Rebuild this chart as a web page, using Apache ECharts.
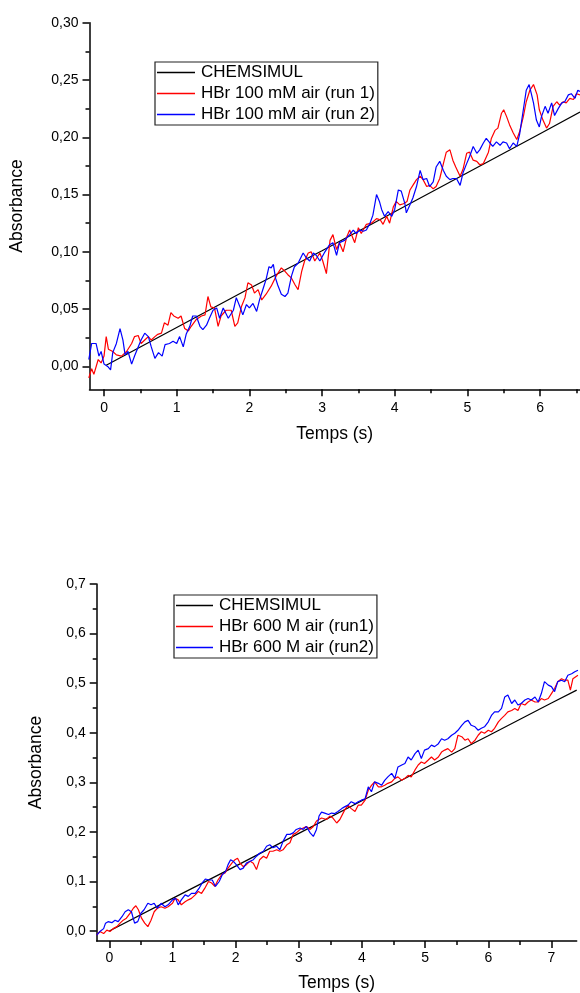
<!DOCTYPE html>
<html>
<head>
<meta charset="utf-8">
<script src="https://cdn.jsdelivr.net/npm/echarts@6/dist/echarts.min.js"></script>
<style>html,body{margin:0;padding:0;background:#fff}#c{width:580px;height:993px}</style>
</head>
<body>
<div id="c"></div>
<script>
// ---------- Top chart data (HBr 100 mM) ----------
var topSim = [[0.03,0.001],[1,0.034],[2,0.068],[3,0.101],[4,0.135],[5,0.169],[6,0.203],[6.55,0.222]];
var topRun1 = [[-0.21,-0.010],[-0.17,-0.002],[-0.14,-0.007],[-0.08,0.006],[-0.04,0.003],[0,0.009],[0.03,0.026],[0.06,0.015],[0.12,0.013],[0.17,0.010],[0.24,0.009],[0.31,0.013],[0.38,0.020],[0.42,0.026],[0.47,0.027],[0.51,0.020],[0.56,0.023],[0.61,0.026],[0.65,0.023],[0.70,0.026],[0.74,0.028],[0.79,0.029],[0.83,0.038],[0.88,0.036],[0.92,0.047],[0.96,0.044],[1.02,0.042],[1.06,0.044],[1.11,0.033],[1.16,0.031],[1.20,0.035],[1.27,0.041],[1.34,0.044],[1.39,0.045],[1.43,0.061],[1.47,0.052],[1.52,0.051],[1.57,0.035],[1.61,0.044],[1.68,0.049],[1.75,0.049],[1.80,0.035],[1.84,0.038],[1.89,0.052],[1.94,0.060],[1.98,0.073],[2.03,0.071],[2.07,0.064],[2.12,0.067],[2.17,0.058],[2.23,0.063],[2.30,0.070],[2.37,0.079],[2.44,0.086],[2.49,0.083],[2.53,0.080],[2.58,0.077],[2.63,0.071],[2.67,0.067],[2.72,0.083],[2.76,0.092],[2.81,0.099],[2.85,0.100],[2.90,0.092],[2.97,0.099],[3.01,0.092],[3.06,0.081],[3.11,0.110],[3.15,0.115],[3.20,0.102],[3.24,0.108],[3.29,0.100],[3.34,0.113],[3.38,0.119],[3.45,0.108],[3.50,0.121],[3.54,0.116],[3.61,0.124],[3.68,0.125],[3.75,0.129],[3.80,0.128],[3.84,0.124],[3.89,0.131],[3.93,0.125],[3.98,0.139],[4.02,0.144],[4.07,0.141],[4.12,0.142],[4.17,0.144],[4.21,0.154],[4.25,0.158],[4.30,0.163],[4.35,0.166],[4.39,0.163],[4.44,0.157],[4.48,0.158],[4.53,0.155],[4.57,0.157],[4.62,0.164],[4.67,0.177],[4.71,0.187],[4.76,0.189],[4.80,0.180],[4.84,0.174],[4.90,0.166],[4.94,0.172],[4.99,0.186],[5.03,0.187],[5.08,0.180],[5.13,0.179],[5.17,0.176],[5.22,0.177],[5.29,0.187],[5.33,0.199],[5.38,0.206],[5.42,0.208],[5.47,0.221],[5.50,0.224],[5.54,0.218],[5.58,0.211],[5.63,0.204],[5.68,0.198],[5.72,0.205],[5.77,0.218],[5.81,0.231],[5.86,0.241],[5.91,0.246],[5.96,0.237],[5.99,0.224],[6.04,0.215],[6.09,0.208],[6.13,0.212],[6.18,0.227],[6.23,0.231],[6.27,0.228],[6.32,0.231],[6.36,0.230],[6.41,0.234],[6.46,0.233],[6.50,0.238],[6.55,0.237]];
var topRun2 = [[-0.21,0.006],[-0.17,0.020],[-0.11,0.020],[-0.07,0.009],[-0.04,0.013],[0,0.002],[0.05,0.000],[0.09,-0.003],[0.12,0.012],[0.17,0.020],[0.22,0.033],[0.26,0.023],[0.29,0.010],[0.33,0.013],[0.38,0.002],[0.42,0.009],[0.47,0.017],[0.51,0.023],[0.56,0.029],[0.61,0.026],[0.65,0.017],[0.70,0.007],[0.75,0.012],[0.80,0.009],[0.84,0.019],[0.90,0.020],[0.95,0.022],[1.00,0.020],[1.04,0.026],[1.09,0.017],[1.13,0.028],[1.18,0.035],[1.22,0.044],[1.27,0.044],[1.32,0.035],[1.36,0.032],[1.41,0.036],[1.45,0.042],[1.50,0.049],[1.55,0.051],[1.59,0.042],[1.64,0.051],[1.71,0.042],[1.78,0.049],[1.82,0.060],[1.87,0.052],[1.91,0.045],[1.96,0.054],[2.00,0.051],[2.05,0.055],[2.10,0.048],[2.14,0.058],[2.19,0.068],[2.23,0.076],[2.27,0.087],[2.30,0.086],[2.33,0.089],[2.36,0.077],[2.39,0.071],[2.44,0.063],[2.49,0.061],[2.53,0.064],[2.58,0.079],[2.62,0.087],[2.67,0.090],[2.74,0.099],[2.78,0.095],[2.83,0.092],[2.88,0.099],[2.92,0.097],[2.97,0.092],[3.04,0.100],[3.10,0.106],[3.15,0.108],[3.20,0.097],[3.24,0.108],[3.31,0.110],[3.38,0.115],[3.43,0.119],[3.47,0.116],[3.52,0.119],[3.57,0.118],[3.61,0.119],[3.66,0.125],[3.70,0.132],[3.75,0.150],[3.79,0.144],[3.82,0.137],[3.86,0.131],[3.91,0.135],[3.96,0.131],[4.00,0.137],[4.05,0.154],[4.09,0.153],[4.14,0.142],[4.16,0.134],[4.21,0.141],[4.25,0.147],[4.30,0.157],[4.35,0.171],[4.39,0.163],[4.44,0.164],[4.48,0.157],[4.53,0.161],[4.57,0.174],[4.62,0.179],[4.67,0.171],[4.71,0.166],[4.76,0.163],[4.80,0.164],[4.85,0.164],[4.90,0.158],[4.94,0.169],[4.99,0.177],[5.03,0.183],[5.08,0.192],[5.13,0.186],[5.17,0.189],[5.22,0.195],[5.26,0.199],[5.31,0.195],[5.35,0.192],[5.40,0.196],[5.45,0.193],[5.49,0.196],[5.54,0.195],[5.58,0.190],[5.63,0.195],[5.68,0.192],[5.72,0.203],[5.77,0.224],[5.81,0.241],[5.85,0.246],[5.88,0.238],[5.91,0.230],[5.95,0.215],[5.99,0.209],[6.02,0.218],[6.07,0.227],[6.11,0.221],[6.16,0.230],[6.20,0.219],[6.25,0.225],[6.30,0.230],[6.34,0.231],[6.39,0.237],[6.43,0.238],[6.48,0.234],[6.52,0.241],[6.55,0.240]];

// ---------- Bottom chart data (HBr 600 M) ----------
var botSim = [[0,0],[1,0.066],[2,0.131],[3,0.197],[4,0.263],[5,0.329],[6,0.394],[7,0.460],[7.4,0.486]];
var botRun1 = [[-0.20,-0.008],[-0.15,-0.001],[-0.09,-0.005],[-0.04,0.002],[0.01,-0.001],[0.06,0.005],[0.12,0.009],[0.17,0.016],[0.22,0.022],[0.27,0.026],[0.33,0.036],[0.38,0.046],[0.42,0.051],[0.46,0.043],[0.51,0.026],[0.56,0.016],[0.61,0.009],[0.66,0.022],[0.71,0.039],[0.76,0.046],[0.82,0.049],[0.88,0.046],[0.93,0.049],[1.00,0.056],[1.04,0.066],[1.09,0.063],[1.14,0.053],[1.20,0.059],[1.25,0.063],[1.30,0.066],[1.36,0.073],[1.41,0.080],[1.46,0.076],[1.51,0.086],[1.57,0.100],[1.62,0.097],[1.67,0.090],[1.72,0.103],[1.78,0.114],[1.83,0.117],[1.88,0.127],[1.94,0.137],[1.99,0.144],[2.03,0.147],[2.07,0.137],[2.12,0.130],[2.17,0.134],[2.23,0.141],[2.28,0.137],[2.33,0.124],[2.38,0.144],[2.44,0.151],[2.49,0.147],[2.54,0.161],[2.59,0.161],[2.65,0.164],[2.70,0.161],[2.75,0.164],[2.81,0.174],[2.86,0.178],[2.91,0.195],[2.96,0.198],[3.02,0.205],[3.07,0.208],[3.12,0.211],[3.18,0.205],[3.23,0.211],[3.28,0.222],[3.36,0.228],[3.44,0.225],[3.49,0.232],[3.54,0.228],[3.60,0.218],[3.65,0.225],[3.68,0.225],[3.73,0.245],[3.78,0.254],[3.83,0.247],[3.89,0.241],[3.94,0.254],[3.99,0.254],[4.05,0.264],[4.10,0.284],[4.15,0.294],[4.20,0.301],[4.26,0.291],[4.31,0.291],[4.36,0.294],[4.41,0.298],[4.47,0.301],[4.52,0.308],[4.57,0.311],[4.63,0.304],[4.68,0.308],[4.73,0.314],[4.78,0.311],[4.84,0.325],[4.89,0.335],[4.94,0.341],[4.99,0.338],[5.05,0.345],[5.10,0.351],[5.15,0.345],[5.21,0.351],[5.26,0.361],[5.31,0.365],[5.36,0.368],[5.42,0.361],[5.47,0.368],[5.52,0.395],[5.58,0.392],[5.63,0.385],[5.68,0.388],[5.73,0.378],[5.79,0.385],[5.84,0.395],[5.89,0.402],[5.94,0.399],[6.00,0.405],[6.05,0.402],[6.10,0.409],[6.16,0.422],[6.21,0.429],[6.26,0.435],[6.31,0.442],[6.37,0.445],[6.42,0.449],[6.47,0.445],[6.52,0.459],[6.58,0.456],[6.63,0.462],[6.68,0.466],[6.74,0.462],[6.79,0.462],[6.84,0.469],[6.89,0.466],[6.95,0.469],[7.00,0.479],[7.05,0.489],[7.10,0.503],[7.16,0.509],[7.21,0.506],[7.26,0.506],[7.30,0.486],[7.34,0.509],[7.42,0.516]];
var botRun2 = [[-0.20,-0.008],[-0.15,-0.001],[-0.09,0.005],[-0.06,0.016],[-0.02,0.019],[0.04,0.017],[0.09,0.022],[0.14,0.019],[0.20,0.029],[0.25,0.039],[0.30,0.043],[0.35,0.039],[0.40,0.016],[0.45,0.019],[0.50,0.036],[0.55,0.043],[0.61,0.056],[0.66,0.053],[0.71,0.056],[0.76,0.046],[0.82,0.056],[0.88,0.049],[0.93,0.053],[1.00,0.063],[1.05,0.066],[1.09,0.053],[1.14,0.063],[1.20,0.073],[1.25,0.070],[1.30,0.076],[1.36,0.076],[1.42,0.086],[1.47,0.097],[1.52,0.105],[1.58,0.103],[1.63,0.103],[1.68,0.090],[1.74,0.100],[1.79,0.114],[1.84,0.120],[1.88,0.134],[1.92,0.144],[1.96,0.141],[2.01,0.134],[2.07,0.124],[2.12,0.127],[2.17,0.137],[2.23,0.141],[2.28,0.144],[2.33,0.151],[2.38,0.157],[2.44,0.161],[2.49,0.171],[2.54,0.174],[2.59,0.168],[2.65,0.171],[2.70,0.164],[2.75,0.181],[2.81,0.195],[2.86,0.195],[2.91,0.198],[2.96,0.205],[3.02,0.208],[3.07,0.205],[3.12,0.211],[3.18,0.198],[3.23,0.191],[3.28,0.205],[3.32,0.232],[3.36,0.240],[3.41,0.238],[3.47,0.235],[3.52,0.238],[3.57,0.237],[3.62,0.241],[3.68,0.247],[3.73,0.251],[3.78,0.254],[3.83,0.261],[3.89,0.257],[3.94,0.261],[3.99,0.264],[4.05,0.267],[4.10,0.291],[4.15,0.281],[4.20,0.301],[4.26,0.298],[4.31,0.294],[4.36,0.304],[4.41,0.311],[4.47,0.318],[4.52,0.308],[4.57,0.331],[4.63,0.335],[4.68,0.338],[4.73,0.351],[4.78,0.345],[4.84,0.358],[4.89,0.365],[4.94,0.348],[4.99,0.365],[5.05,0.368],[5.10,0.375],[5.15,0.372],[5.21,0.378],[5.26,0.388],[5.31,0.385],[5.36,0.388],[5.42,0.395],[5.47,0.399],[5.52,0.405],[5.58,0.415],[5.63,0.422],[5.68,0.425],[5.73,0.415],[5.79,0.412],[5.84,0.405],[5.89,0.409],[5.94,0.412],[6.00,0.422],[6.05,0.435],[6.10,0.442],[6.16,0.442],[6.21,0.449],[6.26,0.472],[6.31,0.476],[6.37,0.459],[6.42,0.466],[6.47,0.456],[6.52,0.459],[6.58,0.466],[6.63,0.469],[6.68,0.466],[6.74,0.472],[6.79,0.462],[6.84,0.479],[6.89,0.503],[6.95,0.496],[7.00,0.493],[7.05,0.483],[7.10,0.503],[7.16,0.506],[7.21,0.503],[7.26,0.516],[7.32,0.519],[7.37,0.523],[7.42,0.526]];

// ---------- Names and ticks ----------
var simName = 'CHEMSIMUL';
var topNames = ['HBr 100 mM air (run 1)', 'HBr 100 mM air (run 2)'];
var botNames = ['HBr 600 M air (run1)', 'HBr 600 M air (run2)'];
var xTitle = 'Temps (s)';
var yTitle = 'Absorbance';
var topXTicks = [0,1,2,3,4,5,6];
var topXMinor = [0.5,1.5,2.5,3.5,4.5,5.5,6.5];
var topYTicks = [0,0.05,0.10,0.15,0.20,0.25,0.30];
var topYMinor = [0.025,0.075,0.125,0.175,0.225,0.275];
var botXTicks = [0,1,2,3,4,5,6,7];
var botXMinor = [0.5,1.5,2.5,3.5,4.5,5.5,6.5];
var botYTicks = [0,0.1,0.2,0.3,0.4,0.5,0.6,0.7];
var botYMinor = [0.05,0.15,0.25,0.35,0.45,0.55,0.65];

var FONT = '"Liberation Sans", Arial, sans-serif';
var AX = {color:'#000', width:1.5};
var TICKFS = 14;

function mainAxis(gridIndex, min, max, ticks, fmt, margin, extra) {
  return Object.assign({
    type:'value', gridIndex:gridIndex, min:min, max:max,
    axisLine:{show:true, onZero:false, lineStyle:AX},
    axisTick:{show:true, inside:false, length:7, lineStyle:AX, customValues:ticks},
    axisLabel:{show:true, customValues:ticks, color:'#000', fontFamily:FONT, fontSize:TICKFS, margin:margin, formatter:fmt},
    splitLine:{show:false},
    nameTextStyle:{color:'#000', fontFamily:FONT, fontSize:17.5},
    nameLocation:'middle'
  }, extra);
}
function minorAxis(gridIndex, min, max, ticks, extra) {
  return Object.assign({
    type:'value', gridIndex:gridIndex, min:min, max:max,
    axisLine:{show:false, onZero:false},
    axisTick:{show:true, inside:false, length:4, lineStyle:AX, customValues:ticks},
    axisLabel:{show:false},
    splitLine:{show:false}
  }, extra);
}
var fmtX = function(v){ return String(Math.round(v)); };
var fmtY2 = function(v){ return v.toFixed(2).replace('.', ','); };
var fmtY1 = function(v){ return v.toFixed(1).replace('.', ','); };

function lineSeries(name, data, color, xi, yi, w) {
  return {type:'line', name:name, data:data, xAxisIndex:xi, yAxisIndex:yi,
    symbol:'none', showSymbol:false, clip:true,
    lineStyle:{color:color, width:w}, itemStyle:{color:color}};
}
function legendBox(left, top, itemWidth, names) {
  return {orient:'vertical', left:left, top:top, padding:[2,3,2,2], itemGap:4,
    itemWidth:itemWidth, itemHeight:1.3, icon:'rect',
    borderColor:'#222', borderWidth:1.2, selectedMode:false,
    textStyle:{color:'#000', fontFamily:FONT, fontSize:17, lineHeight:17, padding:[0,0,0,1]},
    data:names};
}

var chart = echarts.init(document.getElementById('c'), null, {renderer:'canvas'});
chart.setOption({
  animation:false,
  backgroundColor:'#fff',
  textStyle:{fontFamily:FONT},
  grid:[
    {left:89.5, top:22.7, width:490.5, height:366.6},
    {left:96.7, top:584, width:480, height:357}
  ],
  xAxis:[
    mainAxis(0, -0.2, 6.55, topXTicks, fmtX, 12, {name:xTitle, nameGap:36, position:'bottom'}),
    minorAxis(0, -0.2, 6.55, topXMinor, {position:'bottom'}),
    mainAxis(1, -0.2, 7.4, botXTicks, fmtX, 10, {name:xTitle, nameGap:33, position:'bottom'}),
    minorAxis(1, -0.2, 7.4, botXMinor, {position:'bottom'})
  ],
  yAxis:[
    mainAxis(0, -0.02, 0.30, topYTicks, fmtY2, 11, {name:yTitle, nameGap:63, position:'left'}),
    minorAxis(0, -0.02, 0.30, topYMinor, {position:'left'}),
    mainAxis(1, -0.02, 0.70, botYTicks, fmtY1, 11, {name:yTitle, nameGap:52, position:'left'}),
    minorAxis(1, -0.02, 0.70, botYMinor, {position:'left'})
  ],
  legend:[
    legendBox(155, 62, 38, [simName, topNames[0], topNames[1]]),
    legendBox(174, 595, 37, [simName, botNames[0], botNames[1]])
  ],
  series:[
    lineSeries(simName, topSim, '#000', 0, 0, 1.2),
    lineSeries(topNames[0], topRun1, '#ff0000', 0, 0, 1.2),
    lineSeries(topNames[1], topRun2, '#0000ff', 0, 0, 1.2),
    lineSeries(simName, botSim, '#000', 2, 2, 1.2),
    lineSeries(botNames[0], botRun1, '#ff0000', 2, 2, 1.2),
    lineSeries(botNames[1], botRun2, '#0000ff', 2, 2, 1.2)
  ]
});
</script>
</body>
</html>
